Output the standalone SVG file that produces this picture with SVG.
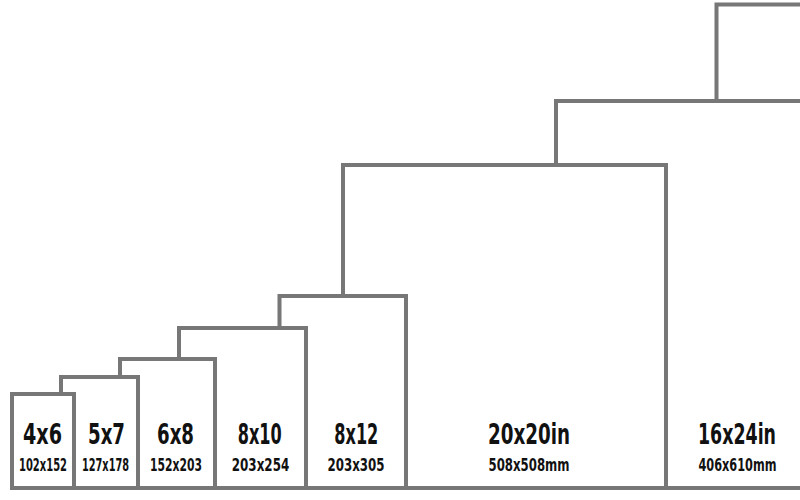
<svg xmlns="http://www.w3.org/2000/svg" width="800" height="500" viewBox="0 0 800 500">
<style>
.frame{fill:#fff;stroke:#777;stroke-width:4}
.big{font-family:"Liberation Sans Narrow","DejaVu Sans Condensed","Liberation Sans",sans-serif;font-stretch:condensed;font-weight:bold;font-size:29px;fill:#111;text-anchor:middle}
.small{font-family:"Liberation Sans Narrow","DejaVu Sans Condensed","Liberation Sans",sans-serif;font-stretch:condensed;font-weight:bold;font-size:18px;fill:#111;text-anchor:middle}
</style>
<rect width="800" height="500" fill="#fff"/>
<g id="size-xl">
<rect class="frame" x="716.5" y="4.5" width="120" height="483.5"/>
</g>
<g id="size-16x24">
<rect class="frame" x="556" y="101" width="280" height="387"/>
<text class="big" x="737" y="444" textLength="78" lengthAdjust="spacingAndGlyphs">16x24in</text>
<text class="small" x="737.5" y="471" textLength="78" lengthAdjust="spacingAndGlyphs">406x610mm</text>
</g>
<g id="size-20x20">
<rect class="frame" x="343" y="165" width="323" height="323"/>
<text class="big" x="529" y="444" textLength="82" lengthAdjust="spacingAndGlyphs">20x20in</text>
<text class="small" x="529" y="471" textLength="81" lengthAdjust="spacingAndGlyphs">508x508mm</text>
</g>
<g id="size-8x12">
<rect class="frame" x="279.5" y="296" width="126.5" height="192"/>
<text class="big" x="356.3" y="444" textLength="44" lengthAdjust="spacingAndGlyphs">8x12</text>
<text class="small" x="356" y="471" textLength="57" lengthAdjust="spacingAndGlyphs">203x305</text>
</g>
<g id="size-8x10">
<rect class="frame" x="179" y="328" width="127" height="160"/>
<text class="big" x="259.7" y="444" textLength="44" lengthAdjust="spacingAndGlyphs">8x10</text>
<text class="small" x="260.5" y="471" textLength="57.5" lengthAdjust="spacingAndGlyphs">203x254</text>
</g>
<g id="size-6x8">
<rect class="frame" x="120" y="359" width="95" height="129"/>
<text class="big" x="175.5" y="444" textLength="37" lengthAdjust="spacingAndGlyphs">6x8</text>
<text class="small" x="176" y="471" textLength="52" lengthAdjust="spacingAndGlyphs">152x203</text>
</g>
<g id="size-5x7">
<rect class="frame" x="61" y="377" width="77" height="111"/>
<text class="big" x="106.5" y="444" textLength="37" lengthAdjust="spacingAndGlyphs">5x7</text>
<text class="small" x="105.5" y="471" textLength="47" lengthAdjust="spacingAndGlyphs">127x178</text>
</g>
<g id="size-4x6">
<rect class="frame" x="12" y="394" width="62" height="94"/>
<text class="big" x="42.5" y="444" textLength="39" lengthAdjust="spacingAndGlyphs">4x6</text>
<text class="small" x="43" y="471" textLength="48" lengthAdjust="spacingAndGlyphs">102x152</text>
</g>
</svg>
